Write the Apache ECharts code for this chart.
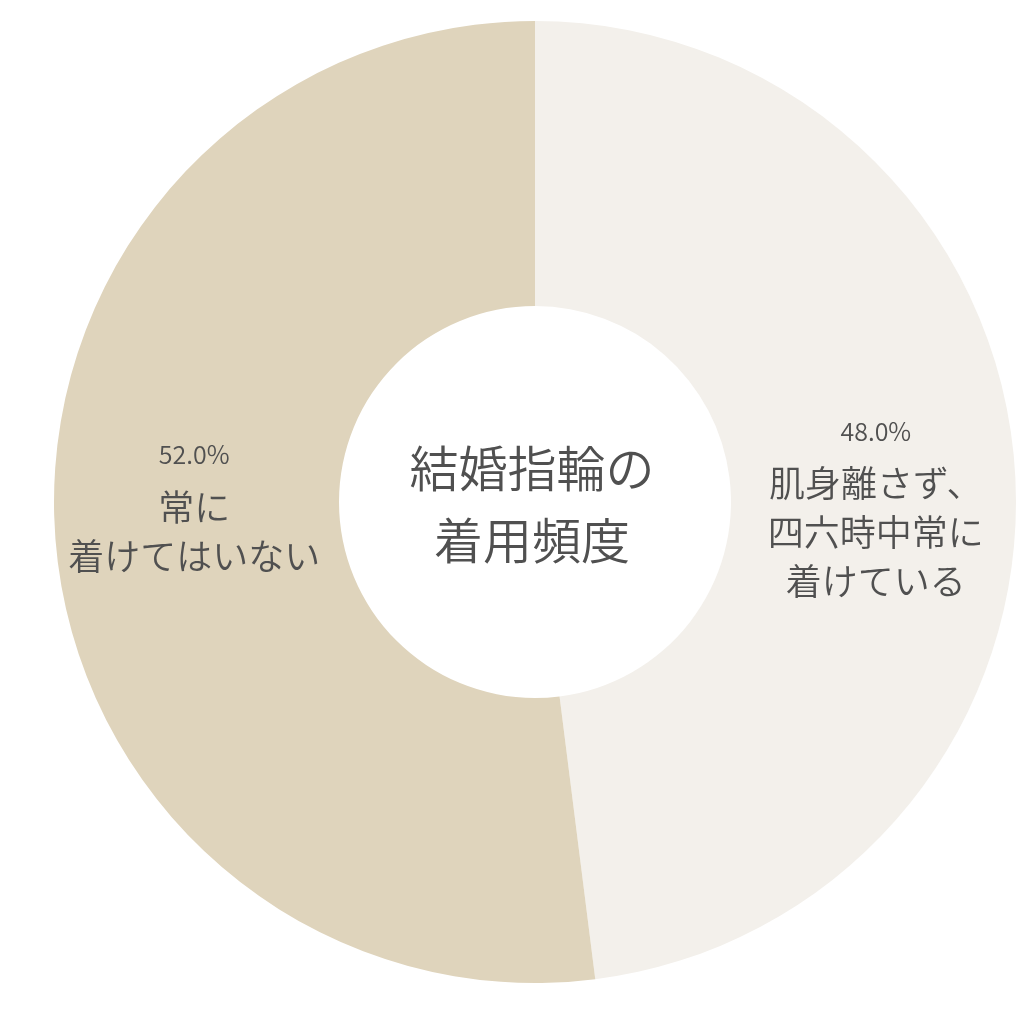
<!DOCTYPE html>
<html>
<head>
<meta charset="utf-8">
<title>結婚指輪の着用頻度</title>
<script src="https://cdn.jsdelivr.net/npm/echarts@6/dist/echarts.min.js"></script>
<style>
  html, body { margin: 0; padding: 0; background: #fff; }
  #main { width: 1016px; height: 1024px; }
</style>
</head>
<body>
<div id="main"></div>
<script>
// 結婚指輪の着用頻度
var names = ['肌身離さず、\n四六時中常に\n着けている', '常に\n着けてはいない'];
var values = [48.0, 52.0];
var colors = ['#f3f0eb', '#dfd4bc'];
var centerTitle = '結婚指輪の\n着用頻度';

var chart = echarts.init(document.getElementById('main'));

var data = [];
for (var i = 0; i < values.length; i++) {
    data.push({ name: names[i], value: values[i], itemStyle: { color: colors[i] } });
}

chart.setOption({
    animation: false,
    backgroundColor: '#fff',
    textStyle: { fontFamily: '"Noto Sans CJK JP", "Noto Sans", sans-serif' },
    graphic: [{
        type: 'text',
        x: 532,
        y: 504,
        style: {
            text: centerTitle,
            fill: '#505050',
            fontSize: 49,
            fontWeight: 350,
            lineHeight: 72,
            align: 'center',
            verticalAlign: 'middle',
            fontFamily: '"Noto Sans CJK JP", sans-serif'
        }
    }],
    series: [{
        type: 'pie',
        center: [535, 502],
        radius: [196, 481],
        startAngle: 90,
        clockwise: true,
        silent: true,
        itemStyle: { borderWidth: 0 },
        emphasis: { disabled: true },
        labelLine: { show: false },
        label: {
            show: true,
            position: 'inside',
            align: 'center',
            formatter: function (p) {
                var lines = p.name.split('\n').map(function (s) { return '{n|' + s + '}'; });
                return '{p|' + p.value.toFixed(1) + '%}\n' + lines.join('\n');
            },
            rich: {
                p: { fontSize: 25, fontWeight: 350, lineHeight: 56, color: '#505050', fontFamily: '"Noto Sans CJK JP", sans-serif' },
                n: { fontSize: 36, fontWeight: 350, lineHeight: 49, color: '#505050', fontFamily: '"Noto Sans CJK JP", sans-serif' }
            }
        },
        labelLayout: function (params) {
            return { dy: params.dataIndex === 0 ? 24 : -20 };
        },
        data: data
    }]
});
</script>
</body>
</html>
